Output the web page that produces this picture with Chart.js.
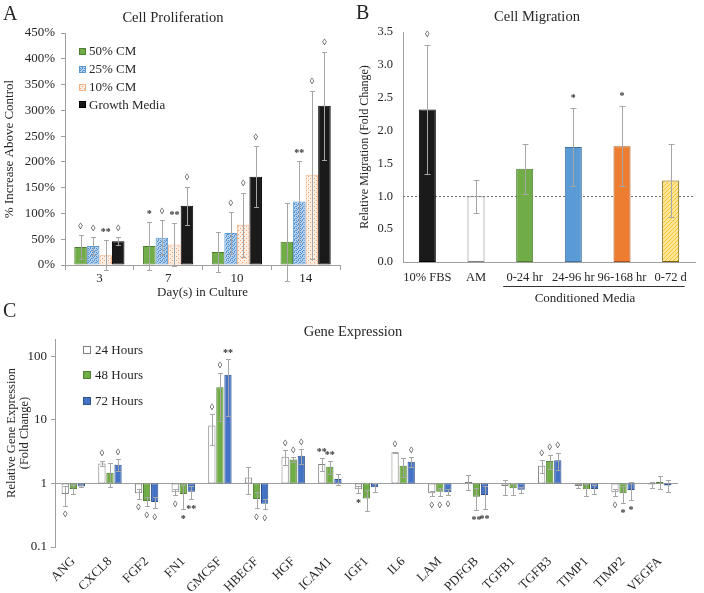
<!DOCTYPE html>
<html>
<head>
<meta charset="utf-8">
<script src="https://cdn.jsdelivr.net/npm/chart.js@4.4.0/dist/chart.umd.min.js"></script>
<style>
  body { margin: 0; width: 704px; height: 593px; background: #fff; position: relative; overflow: hidden; }
  .panel { position: absolute; }
  svg.overlay { position: absolute; left: 0; top: 0; pointer-events: none; font-family: "Liberation Serif", serif; fill: #262626; }
</style>
</head>
<body>
<div class="panel" style="left:0;top:0;width:350px;height:300px"><canvas id="proliferationChart" width="350" height="300"></canvas></div>
<div class="panel" style="left:350px;top:0;width:354px;height:300px"><canvas id="migrationChart" width="354" height="300"></canvas></div>
<div class="panel" style="left:0;top:300px;width:704px;height:293px"><canvas id="geneChart" width="704" height="293"></canvas></div>

<svg class="overlay" width="704" height="593">
  <text x="3" y="20" font-size="20">A</text>
  <text x="356" y="18.5" font-size="20">B</text>
  <text x="3" y="316.5" font-size="20">C</text>
  <text x="173" y="21.5" font-size="14.5" text-anchor="middle">Cell Proliferation</text>
  <text x="537" y="21" font-size="14.5" text-anchor="middle">Cell Migration</text>
  <text x="353" y="336" font-size="14.5" text-anchor="middle">Gene Expression</text>
  <text x="585" y="302" font-size="13" text-anchor="middle">Conditioned Media</text>
  <text transform="translate(14.5,433) rotate(-90)" font-size="12.5" text-anchor="middle">Relative Gene Expression</text>
  <text transform="translate(27.5,433) rotate(-90)" font-size="12.5" text-anchor="middle">(Fold Change)</text>
</svg>

<script>
// ============================================================================
// ------------------- Data: Panel A (Cell Proliferation) -------------------
// ============================================================================
const days = ['3', '7', '10', '14'];
const cm50 = [35, 37, 25, 45];
const cm50Err = [23, 46, 39, 76];
const cm25 = [37, 53, 62, 123];
const cm25Err = [17, 34, 40, 78];
const cm10 = [19, 40, 78, 175];
const cm10Err = [29, 42, 62, 163];
const growthMedia = [46, 115, 171, 309];
const growthMediaErr = [8, 37, 59, 105];
const cm50Marks = ['◊', '*', '', ''];
const cm25Marks = ['◊', '◊', '◊', '**'];
const cm10Marks = ['**', '**', '◊', '◊'];
const growthMarks = ['◊', '◊', '◊', '◊'];
const proliferationTicks = [0, 50, 100, 150, 200, 250, 300, 350, 400, 450];

// ============================================================================
// ------------------- Data: Panel B (Cell Migration) -------------------
// ============================================================================
const migrationLabels = ['10% FBS', 'AM', '0-24 hr', '24-96 hr', '96-168 hr', '0-72 d'];
const migrationValues = [2.32, 1.00, 1.42, 1.75, 1.76, 1.24];
const migrationErr = [0.98, 0.25, 0.38, 0.60, 0.61, 0.56];
const migrationMarks = ['◊', '', '', '*', '*', ''];
const conditionedGroup = [2, 5]; // first and last index under the "Conditioned Media" line

// ============================================================================
// ------------------- Data: Panel C (Gene Expression) -------------------
// ============================================================================
const genes = ['ANG', 'CXCL8', 'FGF2', 'FN1', 'GMCSF', 'HBEGF', 'HGF', 'ICAM1', 'IGF1',
               'IL6', 'LAM', 'PDFGB', 'TGFB1', 'TGFB3', 'TIMP1', 'TIMP2', 'VEGFA'];
const hours24 = [0.68, 2.07, 0.70, 0.73, 8.2, 1.24, 2.64, 2.02, 0.81, 3.09, 0.70, 1.06, 0.91, 1.90, 0.91, 0.73, 0.96];
const hours24Err = [0.23, 0.20, 0.12, 0.08, 4.1, 0.56, 0.72, 0.46, 0.09, 0.07, 0.07, 0.28, 0.24, 0.43, 0.06, 0.10, 0.10];
const hours48 = [0.82, 1.47, 0.53, 0.68, 32.8, 0.57, 2.39, 1.83, 0.58, 1.90, 0.74, 0.62, 0.84, 2.25, 0.81, 0.70, 1.06];
const hours48Err = [0.14, 0.60, 0.09, 0.28, 23, 0.16, 0.18, 0.42, 0.21, 0.64, 0.11, 0.24, 0.17, 0.58, 0.18, 0.20, 0.24];
const hours72 = [0.90, 1.97, 0.51, 0.74, 51.4, 0.48, 2.73, 1.18, 0.87, 2.20, 0.73, 0.66, 0.80, 2.33, 0.82, 0.79, 0.93];
const hours72Err = [0.03, 0.42, 0.10, 0.18, 40, 0.09, 0.70, 0.22, 0.14, 0.40, 0.08, 0.26, 0.08, 0.72, 0.13, 0.25, 0.20];
const hours24Marks = ['◊', '◊', '◊', '◊', '◊', '', '◊', '**', '*', '◊', '◊', '', '', '◊', '', '◊', ''];
const hours48Marks = ['', '', '◊', '*', '◊', '◊', '◊', '**', '', '', '◊', '**', '', '◊', '', '*', ''];
const hours72Marks = ['', '◊', '◊', '**', '**', '◊', '◊', '', '', '◊', '◊', '**', '', '◊', '', '*', ''];
const geneTicks = [0.1, 1, 10, 100];

// ============================================================================
// ------------------- Shared Styling -------------------
// ============================================================================
const SERIF = '"Liberation Serif", serif';
const TEXT = '#262626';
const AXIS = '#a0a0a0';
const ERR = '#a6a6a6';
Chart.defaults.font.family = SERIF;
Chart.defaults.color = TEXT;

// ------------------- Function: makePattern -------------------
// Small repeating canvas pattern for hatched / dotted bar fills
function makePattern(bg, fg, kind) {
    const c = document.createElement('canvas');
    c.width = c.height = 4;
    const g = c.getContext('2d');
    g.fillStyle = bg;
    g.fillRect(0, 0, 4, 4);
    g.fillStyle = fg;
    if (kind === 'diag') {
        for (let i = 0; i < 4; i++) g.fillRect(i, 3 - i, 1, 1);
    } else if (kind === 'check') {
        g.fillRect(0, 0, 1, 1); g.fillRect(2, 0, 1, 1);
        g.fillRect(1, 1, 1, 1); g.fillRect(3, 2, 1, 1);
        g.fillRect(0, 2, 1, 1); g.fillRect(2, 3, 1, 1);
    } else {
        g.fillRect(0, 0, 1, 1);
        g.fillRect(2, 2, 1, 1);
    }
    return g.createPattern(c, 'repeat');
}

// ============================================================================
// ------------------- Plugins -------------------
// ============================================================================

// ------------------- Plugin: errorBars -------------------
// Draws symmetric error bars with caps from dataset.values / dataset.errors
const errorBarsPlugin = {
    id: 'errorBars',
    afterDatasetsDraw(chart, args, opts) {
        const ctx = chart.ctx;
        const y = chart.scales.y;
        ctx.save();
        ctx.strokeStyle = opts.color || ERR;
        ctx.lineWidth = 1;
        chart.data.datasets.forEach((ds, i) => {
            if (!ds.errors) return;
            chart.getDatasetMeta(i).data.forEach((bar, j) => {
                const v = ds.values[j], e = ds.errors[j];
                const x = Math.round(bar.x) + 0.5;
                const top = Math.round(y.getPixelForValue(v + e)) + 0.5;
                const bot = Math.round(y.getPixelForValue(v - e)) + 0.5;
                const cap = opts.cap || 2.5;
                ctx.beginPath();
                ctx.moveTo(x, top); ctx.lineTo(x, bot);
                ctx.moveTo(x - cap, top); ctx.lineTo(x + cap, top);
                ctx.moveTo(x - cap, bot); ctx.lineTo(x + cap, bot);
                ctx.stroke();
            });
        });
        ctx.restore();
    }
};

// ------------------- Plugin: marks -------------------
// Significance symbols above (or below, for values < 1 on the log chart) each error bar
const marksPlugin = {
    id: 'marks',
    afterDatasetsDraw(chart, args, opts) {
        const ctx = chart.ctx;
        const y = chart.scales.y;
        ctx.save();
        ctx.fillStyle = '#333';
        ctx.textAlign = 'center';
        ctx.textBaseline = 'alphabetic';
        chart.data.datasets.forEach((ds, i) => {
            if (!ds.marks) return;
            chart.getDatasetMeta(i).data.forEach((bar, j) => {
                const txt = ds.marks[j];
                if (!txt) return;
                ctx.font = txt.includes('*') ? 'bold 10px ' + SERIF : '9px ' + SERIF;
                const v = ds.values[j], e = ds.errors[j];
                const below = opts.belowUnderOne && v < 1;
                const cy = below ? y.getPixelForValue(v - e) + opts.dist
                                 : y.getPixelForValue(v + e) - opts.dist;
                const m = ctx.measureText(txt);
                const base = cy + (m.actualBoundingBoxAscent - m.actualBoundingBoxDescent) / 2;
                ctx.fillText(txt, bar.x, base);
            });
        });
        ctx.restore();
    }
};

// ------------------- Plugin: insideLegend -------------------
// Excel-style legend inside the plot area
const insideLegendPlugin = {
    id: 'insideLegend',
    afterDraw(chart, args, opts) {
        const ctx = chart.ctx;
        ctx.save();
        ctx.font = '13px ' + SERIF;
        ctx.textBaseline = 'middle';
        chart.data.datasets.forEach((ds, i) => {
            const cy = opts.y + i * opts.gap;
            const bx = opts.x, by = Math.round(cy - opts.box / 2);
            ctx.fillStyle = ds.backgroundColor;
            ctx.fillRect(bx, by, opts.box, opts.box);
            ctx.strokeStyle = ds.borderColor;
            ctx.lineWidth = 1;
            ctx.strokeRect(bx + 0.5, by + 0.5, opts.box - 1, opts.box - 1);
            ctx.fillStyle = TEXT;
            ctx.fillText(ds.label, bx + opts.box + opts.textGap, cy + 0.5);
        });
        ctx.restore();
    }
};

// ------------------- Plugin: refLine -------------------
// Horizontal line at a y value across the plot area
const refLinePlugin = {
    id: 'refLine',
    beforeDatasetsDraw(chart, args, opts) {
        const ctx = chart.ctx;
        const { left, right } = chart.chartArea;
        const yy = Math.round(chart.scales.y.getPixelForValue(opts.value)) + 0.5;
        ctx.save();
        ctx.strokeStyle = opts.color;
        ctx.lineWidth = 1;
        ctx.setLineDash(opts.dash || []);
        ctx.beginPath();
        ctx.moveTo(left, yy);
        ctx.lineTo(right, yy);
        ctx.stroke();
        ctx.restore();
    }
};

// ------------------- Plugin: groupUnderline -------------------
// Line under a run of category labels
const groupUnderlinePlugin = {
    id: 'groupUnderline',
    afterDraw(chart, args, opts) {
        const ctx = chart.ctx;
        const x = chart.scales.x;
        const x1 = x.getPixelForValue(opts.from) - opts.padLeft;
        const x2 = x.getPixelForValue(opts.to) + opts.padRight;
        const yy = Math.round(chart.chartArea.bottom + opts.offset) + 0.5;
        ctx.save();
        ctx.strokeStyle = '#333';
        ctx.lineWidth = 1;
        ctx.beginPath();
        ctx.moveTo(x1, yy); ctx.lineTo(x2, yy);
        ctx.stroke();
        ctx.restore();
    }
};

// ============================================================================
// ------------------- Chart A: Cell Proliferation -------------------
// ============================================================================
function barSet(label, values, errors, marks, bg, border) {
    return {
        label, data: values, values, errors, marks,
        backgroundColor: bg, borderColor: border, borderWidth: 1, borderSkipped: false
    };
}

new Chart(document.getElementById('proliferationChart'), {
    type: 'bar',
    data: {
        labels: days,
        datasets: [
            barSet('50% CM', cm50, cm50Err, cm50Marks, '#70ad47', '#4f7d32'),
            barSet('25% CM', cm25, cm25Err, cm25Marks, makePattern('#b9d3ee', '#4f8fd0', 'check'), '#5b9bd5'),
            barSet('10% CM', cm10, cm10Err, cm10Marks, makePattern('#fdeee4', '#f0a070', 'dots'), '#f4b183'),
            barSet('Growth Media', growthMedia, growthMediaErr, growthMarks, '#1a1a1a', '#000')
        ]
    },
    options: {
        responsive: false,
        animation: false,
        layout: { padding: { top: 33, left: 2, right: 10, bottom: 0 } },
        datasets: { bar: { categoryPercentage: 0.73, barPercentage: 1.0 } },
        plugins: {
            legend: { display: false },
            tooltip: { enabled: false },
            errorBars: { cap: 2.5 },
            marks: { dist: 10 },
            insideLegend: { x: 79, y: 51.5, gap: 17.8, box: 7, textGap: 3 }
        },
        scales: {
            x: {
                grid: { display: true, drawOnChartArea: false, drawTicks: true, tickLength: 5, color: AXIS },
                border: { color: AXIS },
                ticks: { font: { size: 13 }, padding: 1 },
                title: { display: true, text: 'Day(s) in Culture', font: { size: 13 }, padding: { top: 0, bottom: 0 } },
                afterFit: s => { s.height = 35; }
            },
            y: {
                min: 0,
                max: 450,
                afterBuildTicks: s => { s.ticks = proliferationTicks.map(v => ({ value: v })); },
                ticks: { font: { size: 13 }, padding: 6, callback: v => v + '%' },
                grid: { display: true, drawOnChartArea: false, drawTicks: true, tickLength: 4, color: AXIS },
                border: { color: AXIS },
                title: { display: true, text: '% Increase Above Control', font: { size: 13 }, padding: { top: 0, bottom: 0 } },
                afterFit: s => { s.width = 63; }
            }
        }
    },
    plugins: [errorBarsPlugin, marksPlugin, insideLegendPlugin]
});

// ============================================================================
// ------------------- Chart B: Cell Migration -------------------
// ============================================================================
new Chart(document.getElementById('migrationChart'), {
    type: 'bar',
    data: {
        labels: migrationLabels,
        datasets: [{
            label: 'Migration',
            data: migrationValues,
            values: migrationValues,
            errors: migrationErr,
            marks: migrationMarks,
            backgroundColor: ['#1a1a1a', '#ffffff', '#70ad47', '#5b9bd5', '#ed7d31',
                              makePattern('#ffe699', '#f2c230', 'diag')],
            borderColor: ['#000', '#7f7f7f', '#507e32', '#41719c', '#a9521c', '#7f6000'],
            borderWidth: 1,
            borderSkipped: false,
            categoryPercentage: 0.35,
            barPercentage: 1.0
        }]
    },
    options: {
        responsive: false,
        animation: false,
        layout: { padding: { top: 32, left: 0, right: 9, bottom: 0 } },
        plugins: {
            legend: { display: false },
            tooltip: { enabled: false },
            errorBars: { cap: 3 },
            marks: { dist: 12 },
            refLine: { value: 1, color: '#707070', dash: [2, 2] },
            groupUnderline: { from: conditionedGroup[0], to: conditionedGroup[1], padLeft: 21.5, padRight: 14, offset: 23.7 }
        },
        scales: {
            x: {
                grid: { display: false, drawTicks: false },
                border: { color: AXIS },
                ticks: { font: { size: 12.5 }, padding: 8, autoSkip: false, minRotation: 0, maxRotation: 0 },
                afterFit: s => { s.height = 38; }
            },
            y: {
                min: 0,
                max: 3.5,
                ticks: { stepSize: 0.5, font: { size: 12.5 }, padding: 10, callback: v => v.toFixed(1) },
                grid: { display: false, drawTicks: false },
                border: { color: AXIS },
                title: { display: true, text: 'Relative Migration (Fold Change)', font: { size: 12 }, padding: { top: 8, bottom: 0 } },
                afterFit: s => { s.width = 53; }
            }
        }
    },
    plugins: [refLinePlugin, errorBarsPlugin, marksPlugin, groupUnderlinePlugin]
});

// ============================================================================
// ------------------- Chart C: Gene Expression -------------------
// ============================================================================
function logSet(label, values, errors, marks, bg, border) {
    return {
        label, values, errors, marks,
        data: values.map(v => [1, v]),
        backgroundColor: bg, borderColor: border, borderWidth: 1, borderSkipped: false
    };
}

new Chart(document.getElementById('geneChart'), {
    type: 'bar',
    data: {
        labels: genes,
        datasets: [
            logSet('24 Hours', hours24, hours24Err, hours24Marks, '#ffffff', '#7f7f7f'),
            logSet('48 Hours', hours48, hours48Err, hours48Marks, '#70ad47', '#507e32'),
            logSet('72 Hours', hours72, hours72Err, hours72Marks, '#4472c4', '#2f528f')
        ]
    },
    options: {
        responsive: false,
        animation: false,
        layout: { padding: { top: 39, left: 0, right: 26, bottom: 0 } },
        datasets: { bar: { categoryPercentage: 0.66, barPercentage: 0.9 } },
        plugins: {
            legend: { display: false },
            tooltip: { enabled: false },
            errorBars: { cap: 2.5 },
            marks: { dist: 8, belowUnderOne: true },
            refLine: { value: 1, color: AXIS },
            insideLegend: { x: 83, y: 50, gap: 25.3, box: 8, textGap: 4 }
        },
        scales: {
            x: {
                grid: { display: false, drawTicks: false },
                border: { display: false },
                ticks: { font: { size: 13 }, padding: 7, autoSkip: false, minRotation: 45, maxRotation: 45 },
                afterFit: s => { s.height = 46; }
            },
            y: {
                type: 'logarithmic',
                min: 0.1,
                max: 188,
                afterBuildTicks: s => { s.ticks = geneTicks.map(v => ({ value: v })); },
                ticks: { font: { size: 13 }, padding: 4, callback: v => String(v) },
                grid: { display: true, drawOnChartArea: false, drawTicks: true, tickLength: 4, color: AXIS },
                border: { color: AXIS },
                afterFit: s => { s.width = 55; }
            }
        }
    },
    plugins: [refLinePlugin, errorBarsPlugin, marksPlugin, insideLegendPlugin]
});
</script>
</body>
</html>
